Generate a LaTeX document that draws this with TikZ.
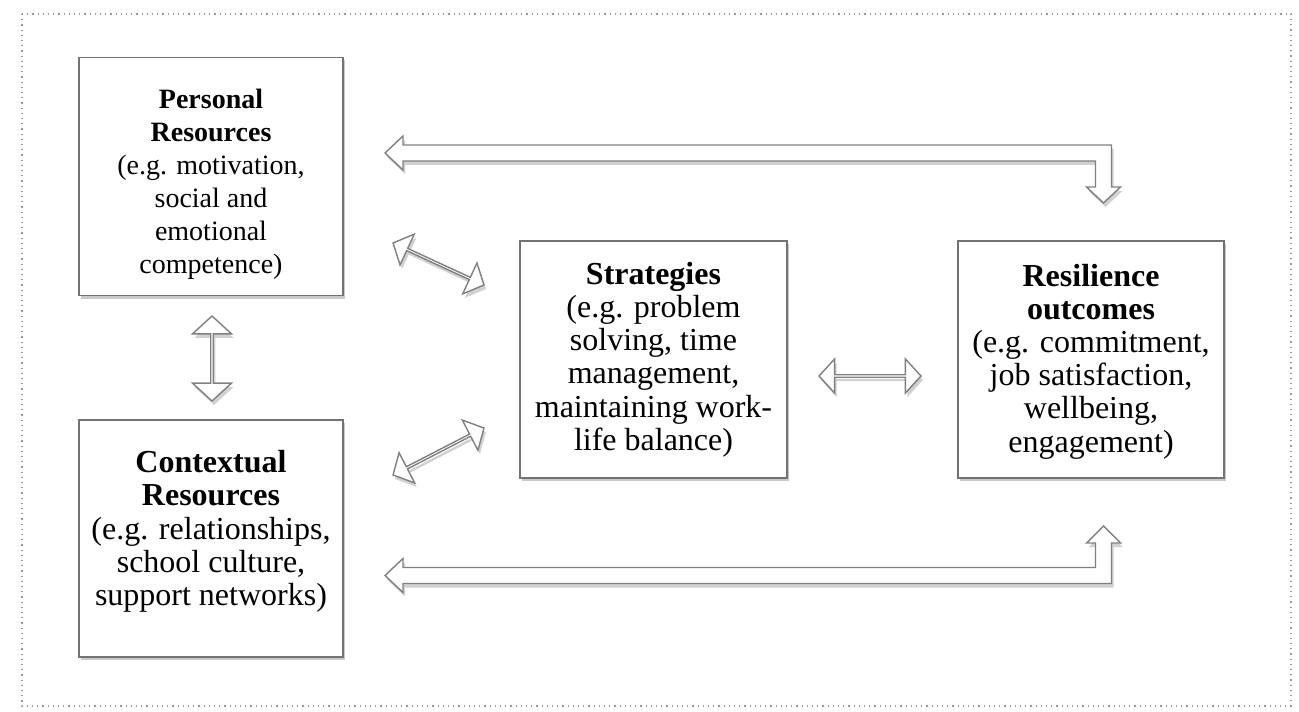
\documentclass[tikz,border=0pt]{standalone}
\usepackage{fontspec}
\setmainfont{Liberation Serif}
\usetikzlibrary{calc,shapes.arrows,shadows}
\begin{document}
\begin{tikzpicture}[x=0.5pt,y=-0.5pt,
  box/.style={draw=black!55, line width=0.8pt, fill=white, minimum width=132pt, minimum height=119pt,
    inner sep=0pt, align=center, font=\fontsize{16}{16.6}\selectfont,
    drop shadow={shadow xshift=1pt, shadow yshift=-1.5pt, opacity=0.35, fill=black!60}},
  blockarrow/.style={double arrow, draw=black!50, line width=0.7pt, fill=white, inner sep=0pt,
    minimum width=17pt, double arrow head extend=4.5pt, double arrow tip angle=95,
    drop shadow={shadow xshift=1pt, shadow yshift=-2pt, opacity=0.18, fill=black}},
  larrow/.style={draw=black!50, line width=0.7pt, fill=white, line join=miter,
    drop shadow={shadow xshift=1pt, shadow yshift=-2pt, opacity=0.18, fill=black}}]
\useasboundingbox (0,0) rectangle (1299,711);
\draw[black!40, line width=0.6pt, dotted] (22,14) rectangle (1291,706);

\node[box, font=\fontsize{14}{16.5}\selectfont] (P) at (211,176.5) {\rule{0pt}{17.5pt}\textbf{Personal}\\\textbf{Resources}\\(e.g. motivation,\\social and\\emotional\\competence)};
\node[box, minimum height=118.5pt] (C) at (211,538.5) {\textbf{Contextual}\\\textbf{Resources}\\(e.g. relationships,\\school culture,\\support networks)\rule[-10.5pt]{0pt}{1pt}};
\node[box, minimum width=133.5pt, minimum height=118.5pt] (S) at (653.5,359.5) {\textbf{Strategies}\\(e.g. problem\\solving, time\\management,\\maintaining work-\\life balance)};
\node[box, minimum width=133pt, minimum height=118.5pt] (R) at (1091,359.5) {\rule{0pt}{13pt}\textbf{Resilience}\\\textbf{outcomes}\\(e.g. commitment,\\job satisfaction,\\wellbeing,\\engagement)};

% straight block arrows
\coordinate (pc1) at (212,316);
\coordinate (pc2) at (212,401);
\coordinate (ps1) at (393,243);
\coordinate (ps2) at (484,285);
\coordinate (cs1) at (393,475);
\coordinate (cs2) at (484,428);
\coordinate (sr1) at (819,376);
\coordinate (sr2) at (921,376);
\path let \p1=($(pc2)-(pc1)$), \n1={atan2(\y1,\x1)}, \n2={veclen(\x1,\y1)} in
  node[blockarrow, minimum width=19.5pt, double arrow head extend=5pt, rotate=\n1, minimum height=\n2] at ($(pc1)!0.5!(pc2)$) {};
\foreach \a/\b in {ps1/ps2, cs1/cs2, sr1/sr2}{
  \path let \p1=($(\b)-(\a)$), \n1={atan2(\y1,\x1)}, \n2={veclen(\x1,\y1)} in
    node[blockarrow, rotate=\n1, minimum height=\n2] at ($(\a)!0.5!(\b)$) {};
}

% L-shaped block arrows
\coordinate (tl) at (385,153);
\coordinate (tr) at (1103.5,203);
\draw[larrow] (tl) -- (403,136) -- (403,145) -- (1111.5,145) -- (1111.5,187) -- (1120.5,187)
  -- (tr) -- (1086.5,187) -- (1095.5,187) -- (1095.5,161) -- (403,161) -- (403,170) -- cycle;
\coordinate (bl) at (385,575.5);
\coordinate (br) at (1103.5,526);
\draw[larrow] (bl) -- (403,558.5) -- (403,567.5) -- (1095.5,567.5) -- (1095.5,543) -- (1086.5,543)
  -- (br) -- (1120.5,543) -- (1111.5,543) -- (1111.5,583.5) -- (403,583.5) -- (403,592.5) -- cycle;
\end{tikzpicture}
\end{document}
